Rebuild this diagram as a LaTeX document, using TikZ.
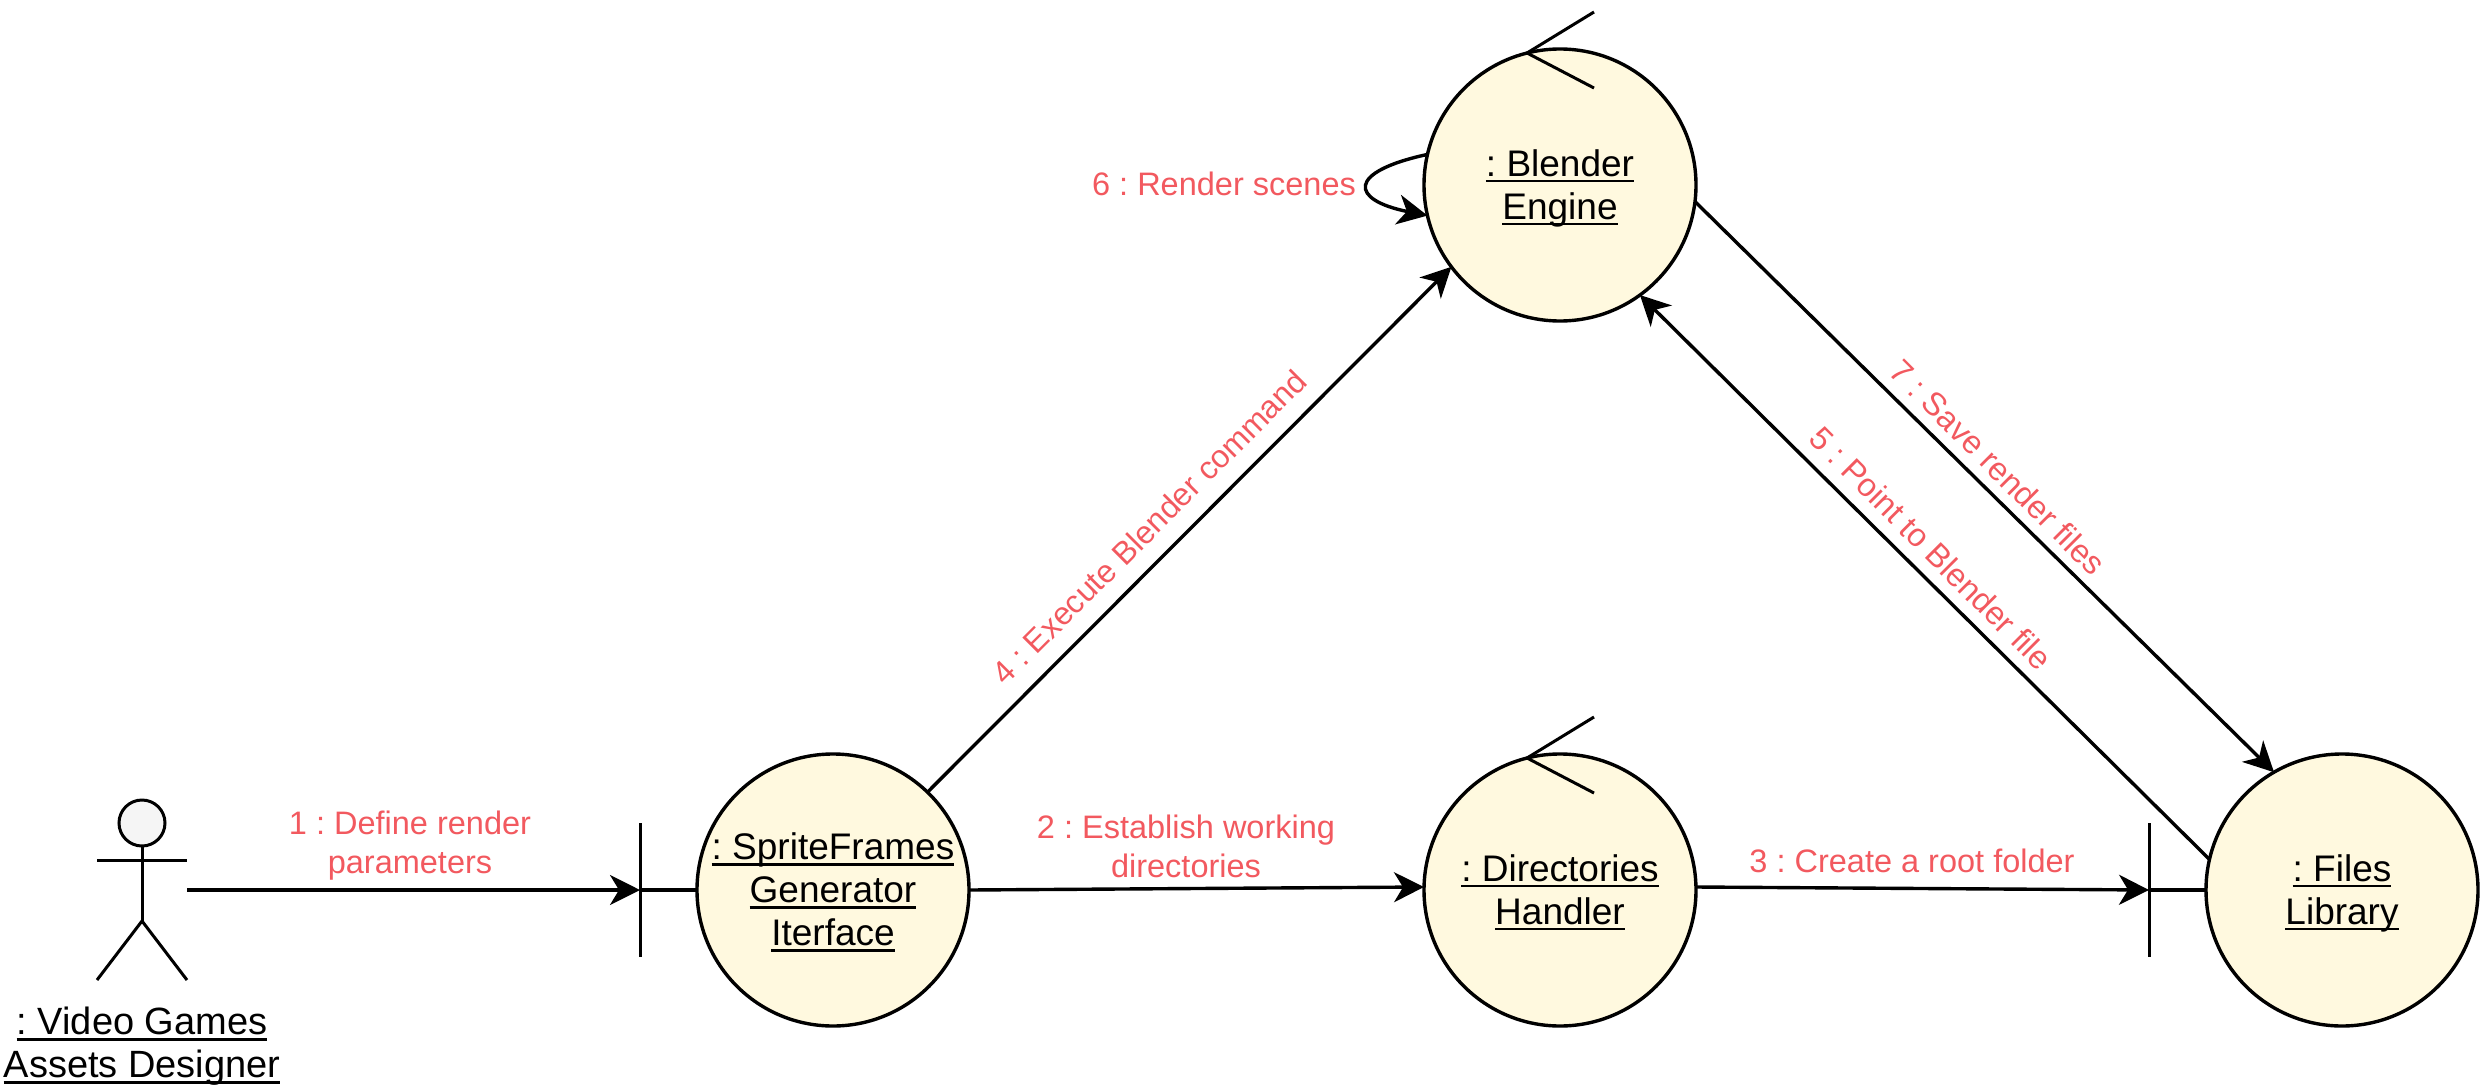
\documentclass[tikz,border=0pt]{standalone}
\usepackage{fontspec}
\setmainfont{Liberation Sans}
\usetikzlibrary{arrows.meta}
\frenchspacing
\definecolor{ctrlfill}{HTML}{FFF9DF}
\definecolor{msgred}{HTML}{F2595F}
\definecolor{headfill}{HTML}{F5F5F5}
\newsavebox\ulbox
\newcommand\ulin[1]{\sbox\ulbox{#1}\raisebox{-3.5pt}[\ht\ulbox][\dp\ulbox]{\usebox\ulbox\llap{\rule[-6pt]{\wd\ulbox}{2.8pt}}}\rule[-8pt]{0pt}{1pt}}
\tikzset{
  obj/.style={circle,draw=black,line width=3.4pt,fill=ctrlfill,minimum size=272pt,inner sep=0pt,outer sep=0pt,align=center,font=\fontsize{37}{43}\selectfont},
  msg/.style={text=msgred,align=center,inner sep=0pt,font=\fontsize{32.5}{39}\selectfont},
  actorname/.style={align=center,inner sep=0pt,font=\fontsize{38}{43}\selectfont},
  conn/.style={line width=3.4pt,draw=black},
  arr/.style={conn,-{Stealth[length=30pt,width=30pt,inset=9pt]}},
  thin/.style={line width=3pt,draw=black}
}
\begin{document}
\begin{tikzpicture}[x=1pt,y=-1pt]
\useasboundingbox (0,0) rectangle (2490,1092);
% objects
\node[obj] (blender) at (1560,185) {\ulin{: Blender}\\\ulin{Engine}};
\node[obj] (dirs) at (1560,890) {\ulin{: Directories}\\\ulin{Handler}};
\node[obj] (sprite) at (833,890) {\ulin{: SpriteFrames}\\\ulin{Generator}\\\ulin{Iterface}};
\node[obj] (files) at (2342,890) {\ulin{: Files}\\\ulin{Library}};
% control antennas
\coordinate (bapex) at (1527,53);
\coordinate (btipa) at (1594,12);
\coordinate (btipb) at (1594,88);
\draw[thin] (btipa) -- (bapex) -- (btipb);
\coordinate (dapex) at (1527,758);
\coordinate (dtipa) at (1594,717);
\coordinate (dtipb) at (1594,793);
\draw[thin] (dtipa) -- (dapex) -- (dtipb);
% boundary bars
\coordinate (sbara) at (640,823);
\coordinate (sbarb) at (640,957);
\coordinate (sbarm) at (640,890);
\draw[thin] (sbara) -- (sbarb);
\draw[conn] (sbarm) -- (sprite.west);
\coordinate (fbara) at (2149,823);
\coordinate (fbarb) at (2149,957);
\coordinate (fbarm) at (2149,890);
\draw[thin] (fbara) -- (fbarb);
\draw[conn] (fbarm) -- (files.west);
% actor
\node[circle,draw=black,line width=3pt,fill=headfill,minimum size=46pt,inner sep=0pt,outer sep=0pt] (head) at (142,823) {};
\coordinate (neck) at (142,860);
\coordinate (armL) at (97,860);
\coordinate (armR) at (187,860);
\coordinate (hip) at (142,921);
\coordinate (legL) at (97,980);
\coordinate (legR) at (187,980);
\coordinate (actorout) at (187,890);
\draw[thin] (head.south) -- (hip);
\draw[thin] (armL) -- (armR);
\draw[thin] (legL) -- (hip) -- (legR);
\node[actorname] (actorlabel) at (142,1043) {\ulin{: Video Games}\\\ulin{Assets Designer}};
% messages
\draw[arr] (actorout) -- (sbarm);
\coordinate (dirin) at (1424,887);
\coordinate (dirout) at (1696,887);
\draw[arr] (sprite.east) -- (dirin);
\draw[arr] (dirout) -- (fbarm);
\draw[arr] (sprite.46.5) -- (blender.217.7);
\draw[arr] (files.167.5) -- (blender.-54);
\draw[arr] (blender.-7.5) -- (files.120.7);
\draw[arr] (blender.167) .. controls (1346,172) and (1350,200) .. (blender.193);
% labels
\node[msg] (m1) at (410,846) {1 : Define render\\parameters};
\node[msg] (m2) at (1186,846) {2 : Establish working\\directories};
\node[msg] (m3) at (1912,861) {3 : Create a root folder};
\node[msg,rotate=45,font=\fontsize{32}{39}\selectfont] (m4) at (1149,527) {4 : Execute Blender command};
\node[msg,rotate=-45] (m5) at (1931,548) {5 : Point to Blender file};
\node[msg] (m6) at (1224,184) {6 : Render scenes};
\node[msg,rotate=-45] (m7) at (1998,467) {7 : Save render files};
\end{tikzpicture}
\end{document}
